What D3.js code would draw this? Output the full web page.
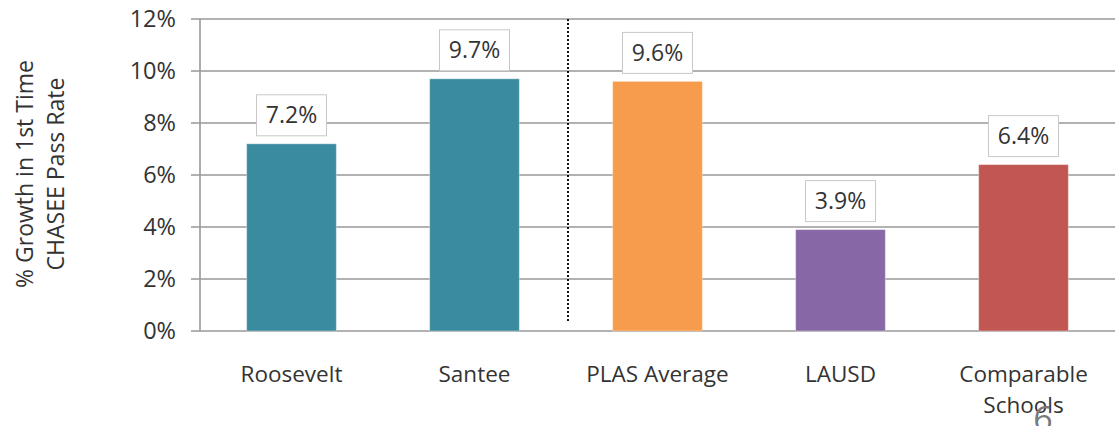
<!DOCTYPE html>
<html><head><meta charset="utf-8">
<script src="https://cdn.jsdelivr.net/npm/d3@7"></script>
<style>body{margin:0;background:#fff}svg{display:block}text{font-family:"Open Sans",sans-serif}</style>
</head><body><svg id="c" width="1120" height="426"></svg>
<script>
const categories = ["Roosevelt","Santee","PLAS Average","LAUSD","Comparable\nSchools"];
const values = [7.2, 9.7, 9.6, 3.9, 6.4];
const colors = ["#3A8B9F","#3A8B9F","#F79B4C","#8767A5","#C15653"];
const yTicks = [0,2,4,6,8,10,12];
const yTitle = ["% Growth in 1st Time","CHASEE Pass Rate"];
const pageNum = "6";

const svg = d3.select("#c");
const x0 = 200, x1 = 1115, yTop = 19, yBot = 331;
const x = d3.scaleBand().domain(categories).range([x0, x1]).paddingInner(0.51).paddingOuter(0.255);
const y = d3.scaleLinear().domain([0, 12]).range([yBot, yTop]);
const textCol = "#333";

// gridlines
const g = svg.append("g");
g.selectAll("line.grid").data(yTicks).join("line")
  .attr("x1", x0 - 9).attr("x2", x1).attr("y1", d => y(d)).attr("y2", d => y(d))
  .attr("stroke", "#999").attr("stroke-width", 1.6);
g.append("line").attr("x1", x0).attr("x2", x0).attr("y1", yTop).attr("y2", yBot)
  .attr("stroke", "#999").attr("stroke-width", 1.6);
g.selectAll("text.tick").data(yTicks).join("text")
  .attr("x", 176).attr("y", d => y(d)).attr("dy", "0.35em").attr("text-anchor", "end")
  .attr("font-size", 23.5).attr("fill", textCol).text(d => d + "%");

// divider dotted
svg.append("line").attr("x1", 568).attr("x2", 568).attr("y1", yTop).attr("y2", 322)
  .attr("stroke", "#111").attr("stroke-width", 2).attr("stroke-dasharray", "2,2");

// bars
svg.selectAll("rect.bar").data(values).join("rect")
  .attr("x", (d, i) => x(categories[i])).attr("width", x.bandwidth())
  .attr("y", d => y(d)).attr("height", d => yBot - y(d))
  .attr("fill", (d, i) => colors[i]).attr("stroke", "rgba(255,255,255,0.35)").attr("stroke-width", 1);

// labels
const lab = svg.selectAll("g.lab").data(values).join("g")
  .attr("transform", (d, i) => `translate(${x(categories[i]) + x.bandwidth()/2},${y(d) - 8})`);
lab.append("rect").attr("x", -35).attr("y", -41).attr("width", 70).attr("height", 41)
  .attr("fill", "#fff").attr("stroke", "#c8c8c8").attr("stroke-width", 1);
lab.append("text").attr("y", -20.5).attr("dy", "0.35em").attr("text-anchor", "middle")
  .attr("font-size", 23).attr("fill", textCol).text(d => d.toFixed(1) + "%");

// category labels
const cl = svg.selectAll("text.cat").data(categories).join("text")
  .attr("x", d => x(d) + x.bandwidth()/2).attr("y", 382).attr("text-anchor", "middle")
  .attr("font-size", 22.5).attr("fill", textCol);
cl.each(function(d) {
  const parts = d.split("\n");
  d3.select(this).selectAll("tspan").data(parts).join("tspan")
    .attr("x", x(d) + x.bandwidth()/2).attr("dy", (p, j) => j === 0 ? 0 : 31).text(p => p);
});

// y title
const yt = svg.append("text").attr("transform", "translate(0,174) rotate(-90)")
  .attr("text-anchor", "middle").attr("font-size", 23).attr("fill", textCol);
yt.selectAll("tspan").data(yTitle).join("tspan").attr("x", 0).attr("y", (d, i) => 33 + i * 31).text(d => d);

// page number
svg.append("text").attr("x", 1043).attr("y", 431).attr("text-anchor", "middle")
  .attr("font-size", 34).attr("fill", "#7a7a7a").text(pageNum);
</script></body></html>
